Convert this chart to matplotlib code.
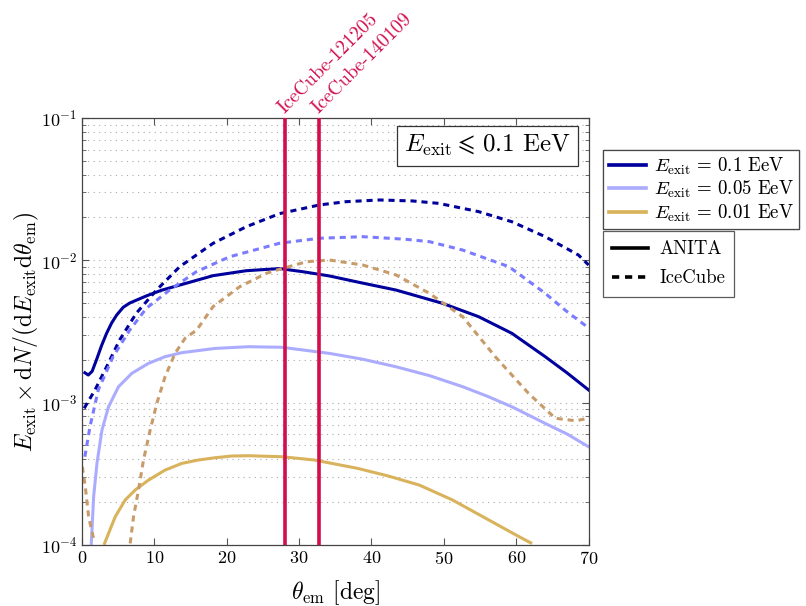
import numpy as np
import matplotlib.pyplot as plt
from matplotlib.ticker import LogLocator, NullFormatter

plt.rcParams['mathtext.fontset'] = 'cm'
plt.rcParams['font.family'] = 'serif'
plt.rcParams['font.serif'] = ['cmr10', 'DejaVu Serif']
plt.rcParams['axes.formatter.use_mathtext'] = True

# Curvas (theta_em en grados, log10 del valor)
x_anita_01 = [0.4, 0.87, 1.4, 2.0, 2.7, 3.4, 4.1, 4.8, 5.7, 6.6, 8.9, 11, 13.5, 18.1, 22.7, 27.3, 30.5,
              34.2, 38.3, 43.4, 49.8, 54.8, 59.4, 64.0, 67.0, 70]
y_anita_01 = [-2.79, -2.806, -2.78, -2.70, -2.60, -2.513, -2.44, -2.384, -2.33, -2.30, -2.25, -2.21, -2.174,
              -2.108, -2.073, -2.058, -2.08, -2.11, -2.155, -2.209, -2.302, -2.396, -2.513, -2.677,
              -2.79, -2.911]

x_ice_01 = [0.3, 1.8, 3.4, 5.2, 7.5, 10.3, 13.5, 18.1, 22.7, 27.3, 32.8, 36.5, 41.1, 45.7, 49.3,
            54.8, 59.4, 64, 68.6, 70]
y_ice_01 = [-3.04, -2.911, -2.748, -2.56, -2.372, -2.209, -2.045, -1.881, -1.764, -1.672, -1.611, -1.588,
            -1.576, -1.583, -1.60, -1.658, -1.729, -1.834, -1.963, -2.033]

x_anita_005 = [1.29, 1.61, 2.07, 2.76, 3.67, 5.05, 6.89, 9.19, 11.48, 13.78, 18.4, 23, 27.6, 34.2,
               38.8, 43.4, 48.0, 52.6, 56.0, 59.4, 64.0, 67.0, 70]
y_anita_005 = [-3.989, -3.661, -3.427, -3.193, -3.029, -2.888, -2.794, -2.724, -2.677, -2.649, -2.619,
               -2.607, -2.611, -2.654, -2.695, -2.748, -2.81, -2.888, -2.955, -3.029, -3.146, -3.22, -3.31]

x_ice_005 = [0.4, 1.1, 2.25, 4.3, 6.6, 8.9, 12.1, 15.8, 20.4, 27.3, 32.8, 38.8, 44.7, 48.0, 52.6, 59.0,
             64.0, 67.0, 70]
y_ice_005 = [-3.38, -3.17, -2.911, -2.677, -2.49, -2.337, -2.209, -2.08, -1.975, -1.88, -1.845, -1.834,
             -1.852, -1.869, -1.928, -2.045, -2.232, -2.36, -2.475]

x_anita_001 = [3.12, 4.59, 5.97, 7.35, 9.19, 11.48, 13.78, 16.08, 18.4, 20.7, 23, 27.6, 32.1, 38.1, 42.3,
               46.6, 51.2, 55.8, 60.4, 62]
y_anita_001 = [-3.989, -3.802, -3.684, -3.614, -3.544, -3.474, -3.427, -3.403, -3.387, -3.375, -3.373,
               -3.38, -3.403, -3.462, -3.515, -3.579, -3.684, -3.813, -3.942, -3.985]

# nan: la curva sale por debajo del eje entre ~2 y ~6.6 grados
x_ice_001 = [0.05, 0.46, 0.92, 1.6, np.nan, 6.66, 7.12, 7.81, 8.5, 9.42, 10.34, 11.48, 12.86, 14.24,
             15.85, 18.1, 21.8, 25.5, 27.3, 31, 34.2, 38.8, 43.4, 48.0, 52.6, 57.1, 61.7, 65.4, 68.2, 70]
y_ice_001 = [-3.45, -3.591, -3.802, -3.954, np.nan, -3.989, -3.802, -3.614, -3.403, -3.193, -3.005,
             -2.818, -2.654, -2.548, -2.49, -2.326, -2.185, -2.091, -2.063, -2.01, -1.998, -2.033,
             -2.103, -2.232, -2.396, -2.677, -2.935, -3.11, -3.127, -3.11]

eventos = ['IceCube-121205', 'IceCube-140109']
theta_eventos = [28.0, 32.7]

c_01 = '#00009c'
c_005_sol = '#acacff'
c_005_dash = '#7b7bff'
c_001_sol = '#d9b25c'
c_001_dash = '#c89c6a'
c_evento = '#d10f4d'
dash = (0, (2.0, 1.6))
lw = 2.2

fig = plt.figure(figsize=(8.06, 6.06), dpi=100)
ax = fig.add_axes([0.1017, 0.1007, 0.6286, 0.7046])

ax.plot(x_anita_01, 10 ** np.array(y_anita_01), color=c_01, lw=lw)
ax.plot(x_ice_01, 10 ** np.array(y_ice_01), color=c_01, lw=lw, linestyle=dash)
ax.plot(x_anita_005, 10 ** np.array(y_anita_005), color=c_005_sol, lw=lw)
ax.plot(x_ice_005, 10 ** np.array(y_ice_005), color=c_005_dash, lw=lw, linestyle=dash)
ax.plot(x_anita_001, 10 ** np.array(y_anita_001), color=c_001_sol, lw=lw)
ax.plot(x_ice_001, 10 ** np.array(y_ice_001), color=c_001_dash, lw=lw, linestyle=dash)

for nombre, th in zip(eventos, theta_eventos):
    ax.axvline(th, color=c_evento, lw=2.6, zorder=5)
    ax.annotate(nombre, xy=(th, 1.0), xycoords=('data', 'axes fraction'),
                xytext=(2, 1), textcoords='offset points', rotation=45,
                rotation_mode='anchor', ha='left', va='bottom',
                color=c_evento, fontsize=14)

ax.set_xlim(0, 70)
ax.set_yscale('log')
ax.set_ylim(1e-4, 1e-1)
ax.set_xticks(range(0, 71, 10))
ax.yaxis.set_major_locator(LogLocator(base=10))
ax.yaxis.set_minor_locator(LogLocator(base=10, subs=np.arange(2, 10)))
ax.yaxis.set_minor_formatter(NullFormatter())
ax.tick_params(which='both', direction='in', top=True, right=True, labelsize=13, color='#555555')
ax.tick_params(which='major', length=5)
ax.tick_params(which='minor', length=3)
ax.yaxis.grid(True, which='both', linestyle=(0, (1, 4)), color='#aaaaaa', lw=0.8)
for s in ax.spines.values():
    s.set_color('#444444')
    s.set_linewidth(0.9)

ax.set_xlabel(r'$\theta_{\rm em}$ [deg]', fontsize=17, labelpad=8)
ax.set_ylabel(r'$E_{\rm exit} \times {\rm d}N / ({\rm d}E_{\rm exit} {\rm d}\theta_{\rm em})$',
              fontsize=17, labelpad=0)

ax.text(0.965, 0.935, r'$E_{\rm exit} \leqslant \, 0.1$ EeV', transform=ax.transAxes,
        ha='right', va='center', fontsize=18,
        bbox=dict(boxstyle='square,pad=0.3', fc='white', ec='#333333', lw=0.9))

# Leyendas (energias y experimentos)
h1 = [plt.Line2D([], [], color=c, lw=2.6) for c in (c_01, c_005_sol, c_001_sol)]
l1 = [r'$E_{\rm exit}$ = 0.1 EeV', r'$E_{\rm exit}$ = 0.05 EeV', r'$E_{\rm exit}$ = 0.01 EeV']
leg1 = fig.legend(h1, l1, loc='upper left', bbox_to_anchor=(0.748, 0.7525), fontsize=13.5,
                  frameon=True, fancybox=False, edgecolor='#333333', handlelength=2.0,
                  borderpad=0.3, labelspacing=0.12, handletextpad=0.4, borderaxespad=0)
leg1.get_frame().set_linewidth(0.9)
fig.add_artist(leg1)

h2 = [plt.Line2D([], [], color='black', lw=2.6),
      plt.Line2D([], [], color='black', lw=2.6, linestyle=dash)]
leg2 = fig.legend(h2, ['ANITA', 'IceCube'], loc='upper left', bbox_to_anchor=(0.748, 0.619),
                  fontsize=13.5, frameon=True, fancybox=False, edgecolor='#333333',
                  handlelength=1.9, borderpad=0.5, labelspacing=0.6, handletextpad=0.6,
                  borderaxespad=0)
leg2.get_frame().set_linewidth(0.9)

fig.savefig('out.png', dpi=100)
